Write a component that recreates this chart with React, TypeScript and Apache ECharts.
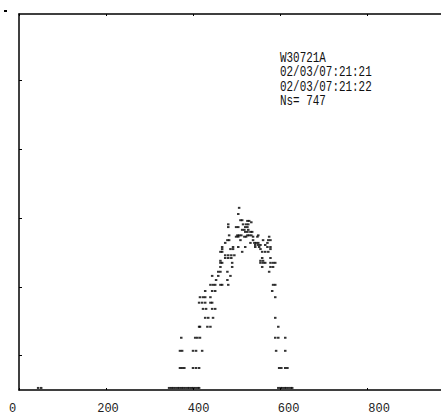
import React, { useEffect, useRef } from "react";
import * as echarts from "echarts";

// x tick labels
const xTicks = [0, 200, 400, 600, 800];
// annotation lines
const infoLines = ["W30721A", "02/03/07:21:21", "02/03/07:21:22", "Ns= 747"];
// y levels of dot rows and the channel positions in each row
const rowLevels = [
  26.5, 25.6, 24.7, 24.6, 24.4, 24.1, 23.7, 23.3, 23.0, 22.5, 22.3, 21.8, 21.4, 21.1,
  20.8, 20.5, 20.1, 19.6, 19.2, 18.8, 18.5, 17.9, 17.2, 16.6, 16.0, 15.3, 14.4, 13.5,
  12.7, 11.8, 10.5, 9.2, 7.6, 5.7, 3.2, 0.3,
];
const rowChannels: number[][] = [
  [506],
  [504],
  [509, 513],
  [525, 529],
  [534],
  [481, 515, 522, 527],
  [481, 499, 504, 520, 525],
  [513, 518, 527],
  [520, 525, 532, 536],
  [483, 502, 506, 511, 525, 529, 534, 550],
  [499, 504, 518, 522, 538, 548, 575],
  [479, 483, 509, 538, 561, 573, 578],
  [474, 532, 541, 545, 550, 571],
  [543, 550, 555, 566],
  [467, 492, 504, 520, 543, 552, 571, 578],
  [467, 486, 492, 555, 578],
  [463, 467, 513, 559, 566, 573],
  [474, 481, 488, 495],
  [474, 481, 488, 559, 578],
  [463, 555, 561],
  [463, 467, 490, 555, 561, 566, 578, 584, 589],
  [463, 490, 559, 578, 584],
  [458, 463, 479, 575],
  [444, 458, 486],
  [453, 479],
  [440, 446, 451, 463, 467, 481, 584, 589],
  [428, 444, 451, 582],
  [416, 423, 428, 440, 589],
  [414, 421, 428, 440, 444],
  [423, 430, 444, 451],
  [428, 435, 446, 589],
  [414, 416, 433, 440, 596],
  [373, 405, 410, 416, 589, 596, 612],
  [370, 375, 400, 407, 421, 591, 612],
  [370, 375, 380, 400, 407, 414, 598, 603, 612, 617],
  [44, 51, 345, 350, 354, 359, 364, 368, 373, 377, 382, 387, 391, 396, 400, 405, 410, 414,
   596, 601, 605, 610, 614, 619, 624, 628],
];
const yTickValues = [5, 15, 25, 35, 45];

// label shifts (rich padding) to mimic original label placement
const labelPad: Record<string, number[]> = {
  l0: [0, 13, 0, 0],
  l200: [0, 0, 0, 4],
  l400: [0, 0, 0, 11],
  l600: [0, 0, 0, 17],
  l800: [0, 0, 0, 24],
};

const MONO = "Liberation Mono";

export default function App() {
  const ref = useRef<HTMLDivElement>(null);
  useEffect(() => {
    document.body.style.margin = "0";
    if (!ref.current) return;
    const chart = echarts.init(ref.current, null, { renderer: "svg" });
    const data: number[][] = [];
    rowLevels.forEach((y, i) => {
      rowChannels[i].forEach((x) => data.push([x, y]));
    });
    const rich: Record<string, any> = {};
    Object.keys(labelPad).forEach((k) => {
      rich[k] = { padding: labelPad[k], fontFamily: MONO, fontSize: 12, color: "#222" };
    });
    const axisLine = { show: true, lineStyle: { color: "#000", width: 1.5 } };
    chart.setOption({
      animation: false,
      backgroundColor: "#fff",
      grid: {
        left: 19,
        right: 0,
        top: 14,
        bottom: 27,
        show: false,
        containLabel: false,
      },
      xAxis: [
        {
          type: "value",
          min: 0,
          max: 970,
          interval: 200,
          position: "bottom",
          splitLine: { show: false },
          axisLine,
          axisTick: { show: true, inside: true, length: 2, lineStyle: { color: "#000" } },
          axisLabel: {
            show: true,
            margin: 13,
            showMaxLabel: false,
            fontFamily: MONO,
            fontSize: 12,
            color: "#222",
            formatter: (v: number) => (xTicks.includes(v) ? `{l${v}|${v}}` : ""),
            rich,
          },
        },
        {
          type: "value",
          min: 0,
          max: 970,
          interval: 200,
          position: "top",
          splitLine: { show: false },
          axisLine,
          axisTick: { show: true, inside: true, length: 2, lineStyle: { color: "#000" } },
          axisLabel: { show: false },
        },
      ],
      yAxis: {
        type: "value",
        min: 0,
        max: 54.7,
        splitLine: { show: false },
        axisLine,
        axisTick: {
          show: true,
          inside: true,
          length: 3,
          customValues: yTickValues,
          lineStyle: { color: "#000" },
        },
        axisLabel: { show: false },
      },
      graphic: [
        {
          type: "text",
          x: 280,
          y: 51,
          scaleX: 0.78,
          style: {
            text: infoLines.join("\n"),
            fontFamily: MONO,
            fontSize: 14,
            lineHeight: 14.5,
            verticalAlign: "top",
            fill: "#111",
          },
        },
        {
          type: "rect",
          shape: { x: 4, y: 10, width: 3, height: 2 },
          style: { fill: "#000" },
        },
      ],
      series: [
        {
          type: "scatter",
          xAxisIndex: 0,
          data,
          symbol: "rect",
          symbolSize: [2.5, 2],
          itemStyle: { color: "#000" },
          silent: true,
        },
      ],
    });
    return () => chart.dispose();
  }, []);
  return <div ref={ref} style={{ width: 441, height: 417 }} />;
}
